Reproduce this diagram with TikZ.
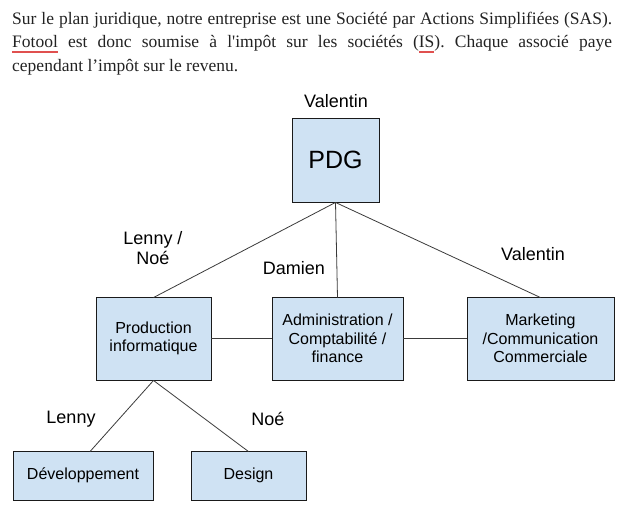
\documentclass[tikz,border=0pt]{standalone}
\usepackage{fontspec}
\setmainfont{Liberation Serif}[Ligatures=TeXOff]
\newfontfamily\arialfont{Liberation Sans}
\frenchspacing
\definecolor{boxfill}{HTML}{CFE2F3}
\definecolor{boxborder}{HTML}{1A1A1A}
\definecolor{linegray}{HTML}{3A3A3A}
\definecolor{ulred}{HTML}{E0504F}
\definecolor{partext}{HTML}{222222}
\newcommand\spellul[1]{\setbox0\hbox{#1}\rlap{\color{ulred}\rule[-5pt]{\wd0}{1.4pt}}\box0\relax}
\tikzset{
  orgbox/.style={draw=boxborder, fill=boxfill, line width=0.9pt, inner sep=0pt,
    align=center, text=black, font=\arialfont\fontsize{16}{18.4}\selectfont},
  lbl/.style={inner sep=0pt, align=center, text=black,
    font=\arialfont\fontsize{18}{20.7}\selectfont},
  link/.style={draw=linegray, line width=0.8pt},
  parline/.style={inner sep=0pt, anchor=base west, text=partext,
    font=\fontsize{17.5}{23.5}\selectfont}
}
\begin{document}
\begin{tikzpicture}[x=1pt,y=-1pt]
\useasboundingbox (0,0) rectangle (628,514);
% paragraph
\node[parline] (par1) at (12,24) {\makebox[600pt][s]{Sur le plan juridique, notre entreprise est une Société par Actions Simplifiées (SAS).}};
\node[parline] (par2) at (12,47.5) {\makebox[600pt][s]{\spellul{Fotool} est donc soumise à l'impôt sur les sociétés (\spellul{IS}). Chaque associé paye}};
\node[parline] (par3) at (12,71) {cependant l’impôt sur le revenu.};
% boxes
\node[orgbox, minimum width=87pt, minimum height=84pt, font=\arialfont\fontsize{25}{28}\selectfont] (pdg) at (335.5,160) {PDG};
\node[orgbox, minimum width=115pt, minimum height=83pt] (prod) at (153.5,338.5) {Production\\informatique};
\node[orgbox, minimum width=131pt, minimum height=83pt] (admin) at (337.5,338.5) {Administration /\\Comptabilité /\\finance};
\node[orgbox, minimum width=147pt, minimum height=83pt] (mkt) at (540.5,338.5) {Marketing\\/Communication\\Commerciale};
\node[orgbox, minimum width=140pt, minimum height=49pt] (dev) at (83,475.5) {Développement};
\node[orgbox, minimum width=115pt, minimum height=49pt] (design) at (248.5,475.5) {Design};
% labels
\node[lbl] (lvalentin) at (336,101) {Valentin};
\node[lbl] (llennynoe) at (153,248) {Lenny /\\Noé};
\node[lbl] (ldamien) at (294,268) {Damien};
\node[lbl] (lvalentin2) at (533,254) {Valentin};
\node[lbl] (llenny) at (71,419) {Lenny};
\node[lbl] (lnoe) at (268,419) {Noé};
% connectors
\draw[link] (pdg.south) -- ([yshift=-1pt]prod.north);
\draw[link] (pdg.south) -- ([yshift=-1pt]admin.north);
\draw[link] (pdg.south) -- ([yshift=-1pt]mkt.north);
\draw[link] (prod.east) -- (admin.west);
\draw[link] (admin.east) -- (mkt.west);
\draw[link] (prod.south) -- ([xshift=7pt,yshift=-1pt]dev.north);
\draw[link] (prod.south) -- ([yshift=-1pt]design.north);
\end{tikzpicture}
\end{document}
